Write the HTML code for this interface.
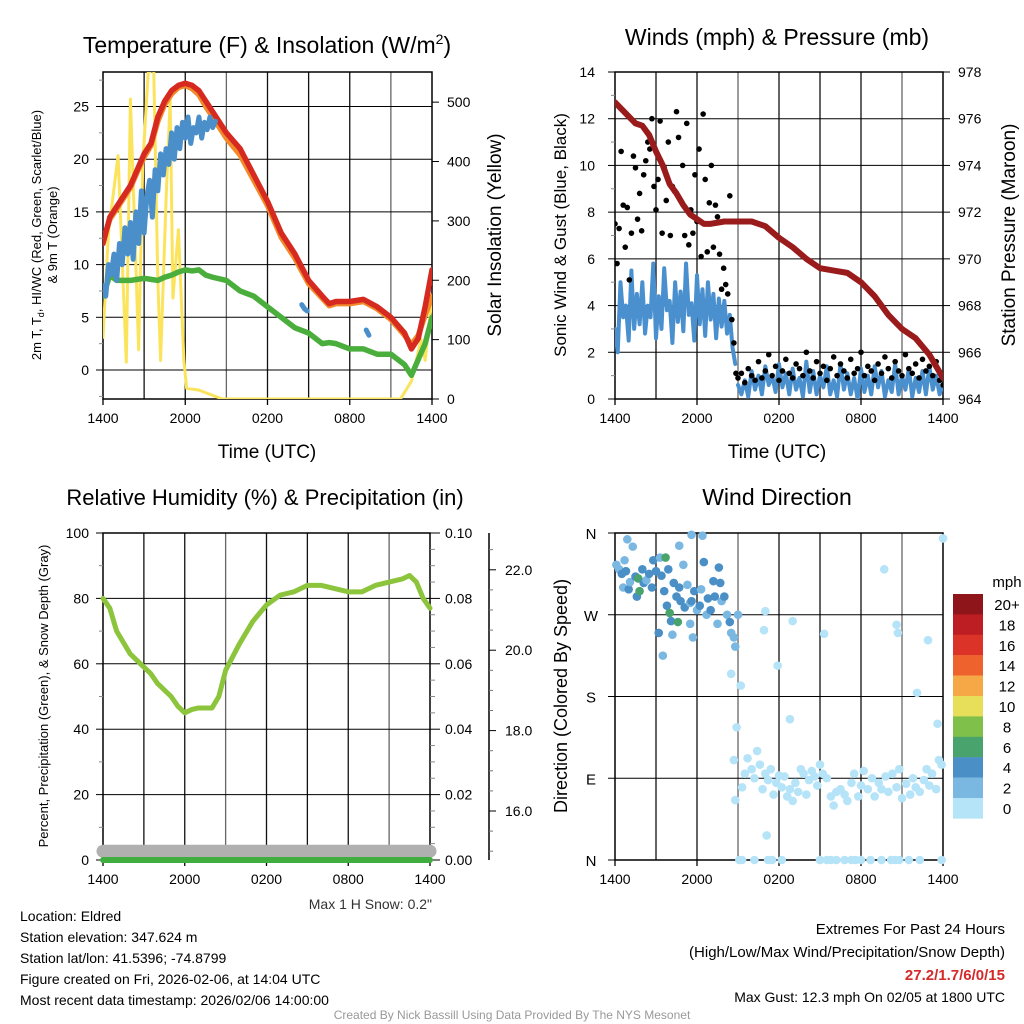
<!DOCTYPE html>
<html><head><meta charset="utf-8"><style>
body{margin:0;background:#fff;}
svg{display:block;font-family:"Liberation Sans",sans-serif;}
</style></head><body>
<svg id="s" width="1024" height="1024" viewBox="0 0 1024 1024"></svg>
<script>
// ---------- DATA ----------
const timeTicks=["1400","2000","0200","0800","1400"];
// Temperature panel (hours from 1400 UTC)
const tH=[0,0.5,1,1.5,2,2.5,3,3.5,4,4.5,5,5.5,6,6.5,7,7.5,8,9,10,11,12,13,14,15,16,16.5,17,18,19,20,21,22,22.5,23,23.5,24];
const tempRed=[12,14.5,15.5,16.5,17.5,19,20.5,21.5,24,25.5,26.5,27,27.2,27,26.5,25.5,24.5,22.5,21,18.5,16,13,11,8.5,7,6.3,6.5,6.5,6.7,6,5,3.5,2,3,6,9.5];
const temp9m=[12.3,14.3,15.3,16.3,17.3,18.8,20.2,21.3,23.6,25.2,26.2,26.8,27,26.7,26.1,25,24,22,20.4,18,15.6,12.6,10.6,8.2,6.8,6.1,6.3,6.3,6.5,5.8,4.8,3.3,2.4,3.3,5.2,7];
const dewGreen=[7,9,8.5,8.5,8.5,8.6,8.7,8.6,8.5,8.8,9,9.3,9.5,9.4,9.5,9,8.8,8.5,7.5,7,6,5,4,3.5,2.5,2.6,2.5,2,2,1.5,1.5,0.5,-0.5,1,2.5,5];
const wcStart=0, wcStep=0.2;
const wcBlue=[8,7,10,9,11,8.5,12,10,13.5,11,14,10.5,15,12,17,13,16.5,18,14.5,19,17,20.5,18.5,21,19.5,22.5,20,23,21,23.5,22,24,21.5,23,22.5,24,22,23.5,22.8,24,23,23.6];
const wcExtraH=[14.5,14.7,14.9,19.2,19.4];
const wcExtra=[6.2,5.8,5.6,3.8,3.3];
const solH=[0,0.4,1.1,1.7,2.0,2.6,2.9,3.3,3.7,4.0,4.2,4.6,4.9,5.1,5.5,5.9,6.1,7,8.7,21.7,22.5,23.2,23.5,24];
const solW=[104,280,410,62,505,83,395,550,555,200,65,335,505,170,285,65,18,15,0,0,30,100,65,170];
// Wind panel
const presH=[0,0.5,1,1.5,2,2.5,3,3.5,4,4.5,5,5.5,6,6.5,7,8,9,10,11,12,13,14,15,16,17,18,19,20,21,22,23,24];
const pres=[976.7,976.4,976.1,975.8,975.7,975.3,974.6,974,973.2,972.8,972.3,971.9,971.7,971.5,971.5,971.6,971.6,971.6,971.4,970.9,970.5,970,969.6,969.5,969.4,969,968.4,967.6,967,966.6,965.9,964.9];
const windEarlyStep=0.2;
const windEarly=[3,2,5,3.5,4,2.5,5.5,3,4.5,3.2,5,2.8,4,3.5,5.8,2.6,4.4,3,5.6,3.8,4.2,2.4,5,3.3,4.6,2.9,5.8,3.6,4.1,2.5,5.3,3.2,4.7,2.7,5,3.4,4.5,2.6,4.3,3.1,4.2,2.8,3.6,2.2,1.5];
const windLateStart=9, windLateStep=0.25;
const windLate=[0.6,0.2,0.8,0.1,1.2,0.4,1,0.2,1.4,0.6,1,0.3,1.5,0.5,1.1,0.2,1.3,0.4,0.9,0.1,1.6,0.3,1.2,0.2,1,0.5,1.4,0.2,0.8,0.1,1.5,0.4,1.1,0.2,0.9,0,1.3,0.3,1,0.2,1.4,0.5,1.2,0.1,0.8,0.3,1.5,0.2,1,0.4,1.3,0.1,0.9,0.3,1.2,0.2,1.4,0.4,1,0.2,0.6];
const gustEarlyStep=0.15;
const gustEarly=[7.5,5.8,7.3,10.6,8.3,6.5,8.2,5.1,7.1,10.4,9.9,7.7,8.8,7.2,9.6,10.2,11,10.7,12,9.1,8.1,9.4,11.9,7.1,9.9,8.5,11,7,9.1,8.9,12.3,11.2,8.5,10,7,11.8,6.6,8.1,7.1,9.6,7.6,10.7,6.1,12.2,9.4,6.3,8.4,10,6.5,8.3,7.8,6.2,4.7,5.6,4.9,4.5,8.7,3.4,2.4,1.1];
const gustLateStart=9, gustLateStep=0.25;
const gustLate=[0.9,1.1,0.7,1.3,1,0.8,1.6,0.9,1.2,1.9,1,1.4,0.8,1.2,1.7,1.1,0.9,1.5,1.3,1,2,1.2,0.9,1.6,1.1,1.4,0.8,1.3,1.8,1,1.5,1.2,0.9,1.7,1.1,1.3,2,1,1.4,1.2,0.8,1.5,1.1,1.8,1.3,0.9,1.6,1.2,1,1.9,1.3,1.1,1.5,0.9,1.7,1.2,1.4,1,1.6,0.8,0.6];
// RH panel
const rhH=[0,0.5,1,2,3,3.5,4,5,5.5,6,6.5,7,8,8.5,9,10,11,12,13,14,15,16,17,18,19,20,21,22,22.5,23,23.5,24];
const rh=[80,77,70,63,59,57,54,50,47,45,46,46.5,46.5,50,58,66,73,78,81,82,84,84,83,82,82,84,85,86,87,85,80,77];
const precipVal=[0,0];
const snowDepth=[15,15];
// Wind direction scatter
const dirH=[0.1,0.3,0.5,0.6,0.7,0.8,1,1.1,1.3,1.5,1.6,1.7,1.8,2,2.1,2.3,2.5,2.7,2.8,3,3.2,3.3,3.4,3.5,3.6,3.7,3.8,3.9,4,4.1,4.2,4.3,4.5,4.6,4.7,4.8,5,5.1,5.3,5.5,5.5,5.6,5.7,5.8,6,6.2,6.3,6.4,6.5,6.7,6.8,7,7.2,7.3,7.5,7.6,7.7,7.8,8,8.2,8.4,8.5,8.7,8.8,9,0.9,4.7,5.6,8.5,9.2,8.9,8.7,8.8,11,10.9,13,11.9,12.8,15.3,19.7,20.6,20.7,22.9,22.1,23.6,24,11.1,
9.3,9.5,9.7,10,10.2,10.4,10.6,10.8,11,11.2,11.4,11.6,11.8,12,12.2,12.4,12.6,12.8,13,13.2,13.4,13.6,13.8,14,14.2,14.4,14.6,14.8,15,15.2,15.5,15.8,16,16.2,16.5,16.8,17,17.3,17.5,17.8,18,18.2,18.5,18.8,19,19.3,19.5,19.8,20,20.3,20.6,20.8,21,21.3,21.6,21.8,22,22.3,22.6,22.8,23,23.2,23.5,23.7,23.9,
9.1,9.3,10.2,11.2,11.5,12.2,15,15.5,15.8,16.2,16.8,17.3,17.6,18,18.7,19.5,20.2,20.5,20.8,21.5,22.3,23.9];
const dirDeg=[325,320,315,300,330,318,298,306,345,312,290,310,296,320,305,308,315,300,330,318,250,333,313,225,296,333,280,320,272,263,248,305,290,262,300,285,325,278,303,283,260,285,245,296,275,280,298,357,328,270,288,275,307,290,260,322,305,285,290,270,262,250,245,235,270,353,346,358,205,192,146,110,66,274,253,263,214,155,249,320,259,250,242,184,150,354,27,
80,95,112,100,90,120,105,78,95,88,100,72,85,93,80,92,70,78,65,85,75,100,95,72,88,98,92,82,105,95,90,70,60,75,78,72,65,85,95,70,82,98,78,90,70,85,78,92,75,95,80,100,68,84,72,90,80,75,88,100,82,95,78,110,105,
0,0,0,0,0,0,0,0,0,0,0,0,0,0,0,0,0,0,0,0,0,0];
const dirSpd=[3,3,4,3,3,4,4,3,3,4,4,7,7,4,4,3,4,4,4,4,4,3,4,3,4,6,4,4,6,4,3,4,4,6,4,4,3,4,3,3,3,4,3,4,3,4,3,3,4,3,4,4,4,4,3,4,4,3,4,3,4,3,2,2,2,3,3,3,1,1,1,1,1,1,1,1,1,1,1,1,1,1,1,1,1,1,1,
1,1,1,1,1,1,1,1,1,1,1,1,1,1,1,1,1,1,1,1,1,1,1,1,1,1,1,1,1,1,1,1,1,1,1,1,1,1,1,1,1,1,1,1,1,1,1,1,1,1,1,1,1,1,1,1,1,1,1,1,1,1,1,1,1,
0,0,0,0,0,0,0,0,0,0,0,0,0,0,0,0,0,0,0,0,0,0];
const spdLabels=["20+","18","16","14","12","10","8","6","4","2","0"];
const spdColors=["#8e1519","#bd1e24","#dc3329","#ee622d","#f5a845","#e7df5a","#7fc04a","#48a46c","#4a8fc6","#7ab8e2","#b5e3f8"];

// ---------- DRAWING ----------
const S=document.getElementById('s');const NS='http://www.w3.org/2000/svg';
function mk(tag,at,parent){const e=document.createElementNS(NS,tag);for(const k in at)e.setAttribute(k,at[k]);(parent||S).appendChild(e);return e;}
function txt(x,y,s,size,anchor,extra){const e=mk('text',Object.assign({x:x,y:y,'font-size':size,'text-anchor':anchor||'middle',fill:'#000'},extra||{}));e.textContent=s;return e;}
function line(x1,y1,x2,y2,c,w){return mk('line',{x1,y1,x2,y2,stroke:c,'stroke-width':w});}
function poly(xs,ys,c,w,name){const p=mk('polyline',{points:xs.map((x,i)=>x+','+ys[i]).join(' '),fill:'none',stroke:c,'stroke-width':w,'stroke-linejoin':'round','stroke-linecap':'round'});

return p;}

// scales
const L1=103,R1=432,T1=72,B1=399,L2=615,R2=943,T3=533,B3=860;
const xA=h=>L1+h*(R1-L1)/24, xB=h=>L2+h*(R2-L2)/24;
const yT=v=>370-v*10.54, yS=w=>399-w*0.5937;
const yW=v=>B1-v*(B1-T1)/14, yP=p=>yW(p-964);
const yRH=v=>B3-v*(B3-T3)/100, yPr=v=>yRH(v*1000), ySn=d=>811-(d-16)*40.2;
const yD=d=>B3-d*(B3-T3)/360;

function frame(L,R,T,B,name){
 for(let i=1;i<8;i++){const x=L+i*(R-L)/8;const c=(i===3||i===7)?'#666':'#111';const g=line(x,T,x,B,c,1.3);}
 const r=mk('rect',{x:L,y:T,width:R-L,height:B-T,fill:'none',stroke:'#000','stroke-width':1.5});
 
 
 timeTicks.forEach((t,i)=>{const x=L+i*(R-L)/4;line(x,B,x,B+6,'#000',1.3);const e=txt(x,B+24,t,14);
  
  });
}
function hgrid(L,R,y){line(L,y,R,y,'#000',1);}

// ===== Panel 1 =====
frame(L1,R1,T1,B1,'temp-panel');
for(let v=0;v<=25;v+=5){hgrid(L1,R1,yT(v));line(L1-7,yT(v),L1,yT(v),'#000',1);const e=txt(L1-14,yT(v)+5,String(v),14,'end');
 
 }
for(let v=-2.5;v<=27.5;v+=5)line(L1-4,yT(v),L1,yT(v),'#888',1);
for(let w=0;w<=500;w+=100){line(R1,yS(w),R1+7,yS(w),'#000',1);const e=txt(R1+15,yS(w)+5,String(w),14,'start');
 
 }
const clip1=mk('clipPath',{id:'c1'});mk('rect',{x:L1,y:T1,width:R1-L1,height:B1-T1},clip1);
const g1=mk('g',{'clip-path':'url(#c1)'});
function polyIn(g,xs,ys,c,w,name){const p=poly(xs,ys,c,w,name);g.appendChild(p);return p;}
polyIn(g1,solH.map(xA),solW.map(yS),'#fbe45c',3,'solar-insolation-line');
polyIn(g1,tH.map(xA),dewGreen.map(yT),'#4aae3c',5.5,'dewpoint-line');
polyIn(g1,tH.map(xA),temp9m.map(yT),'#f2892a',5.5,'temp-9m-line');
polyIn(g1,tH.map(xA),tempRed.map(yT),'#d62a20',5.5,'temp-2m-line');
polyIn(g1,wcBlue.map((v,i)=>xA(wcStart+i*wcStep)),wcBlue.map(yT),'#4a8fc9',5,'windchill-line');
polyIn(g1,wcExtraH.slice(0,3).map(xA),wcExtra.slice(0,3).map(yT),'#4a8fc9',5,'windchill-line-2');
polyIn(g1,wcExtraH.slice(3).map(xA),wcExtra.slice(3).map(yT),'#4a8fc9',5,'windchill-line-3');
{const t=mk('text',{x:267,y:53,'font-size':23,'text-anchor':'middle'});t.innerHTML='Temperature (F) &amp; Insolation (W/m<tspan dy="-9" font-size="14">2</tspan><tspan dy="9">)</tspan>';
 
 }
{const t=txt(267,458,'Time (UTC)',19);}
{const t=mk('text',{x:0,y:0,'font-size':13,'text-anchor':'middle',transform:'translate(41,235) rotate(-90)'});t.innerHTML='2m T, T<tspan dy="3" font-size="9">d</tspan><tspan dy="-3">, HI/WC (Red, Green, Scarlet/Blue)</tspan>';
 }
{const t=txt(0,0,'& 9m T (Orange)',13,'middle',{transform:'translate(57,235) rotate(-90)'});}
{const t=txt(0,0,'Solar Insolation (Yellow)',19,'middle',{transform:'translate(501,235) rotate(-90)'});}

// ===== Panel 2 =====
frame(L2,R2,T1,B1,'wind-panel');
for(let v=0;v<=14;v+=2){hgrid(L2,R2,yW(v));line(L2-7,yW(v),L2,yW(v),'#000',1);if(v<14)line(L2-4,yW(v+1),L2,yW(v+1),'#888',1);
 const e=txt(L2-20,yW(v)+5,String(v),14,'end');
 line(R2,yW(v),R2+7,yW(v),'#000',1);const f=txt(R2+15,yW(v)+5,String(964+v),14,'start');}
const clip2=mk('clipPath',{id:'c2'});mk('rect',{x:L2,y:T1,width:R2-L2,height:B1-T1},clip2);
const g2=mk('g',{'clip-path':'url(#c2)'});
polyIn(g2,windEarly.map((v,i)=>xB(i*windEarlyStep)),windEarly.map(yW),'#4a90cf',4,'sustained-wind-line-early');
polyIn(g2,windLate.map((v,i)=>xB(windLateStart+i*windLateStep)),windLate.map(yW),'#4a90cf',4,'sustained-wind-line-late');
gustEarly.forEach((v,i)=>{const c=mk('circle',{cx:xB(i*gustEarlyStep),cy:yW(v),r:2.8,fill:'#000'},g2);
 
 });
gustLate.forEach((v,i)=>{const c=mk('circle',{cx:xB(gustLateStart+i*gustLateStep),cy:yW(v),r:2.8,fill:'#000'},g2);
 
 });
polyIn(g2,presH.map(xB),pres.map(yP),'#9a1b1b',6,'pressure-line');
{const t=txt(777,45,'Winds (mph) & Pressure (mb)',23);}
{const t=txt(777,458,'Time (UTC)',19);}
{const t=txt(0,0,'Sonic Wind & Gust (Blue, Black)',17,'middle',{transform:'translate(566,235) rotate(-90)'});}
{const t=txt(0,0,'Station Pressure (Maroon)',19,'middle',{transform:'translate(1015,235) rotate(-90)'});}

// ===== Panel 3 =====
const R3=430;
frame(L1,R3,T3,B3,'rh-panel');
for(let v=0;v<=100;v+=20){hgrid(L1,R3,yRH(v));line(L1-7,yRH(v),L1,yRH(v),'#000',1);if(v<100)line(L1-4,yRH(v+10),L1,yRH(v+10),'#888',1);
 const e=txt(L1-14,yRH(v)+5,String(v),14,'end');
 line(R3,yRH(v),R3+10,yRH(v),'#000',1);
 const f=txt(R3+15,yRH(v)+5,(v/1000).toFixed(2),14,'start');}
for(let v=5;v<100;v+=5)if(v%20)line(R3,yRH(v),R3+5,yRH(v),'#888',1);
line(489,T3,489,B3,'#000',1.5);
for(let d=15;d<=22.5;d+=0.5){const maj=(d%2===0);line(489,ySn(d),489+(maj?7:4),ySn(d),maj?'#000':'#777',1);
 if(maj){const e=txt(505,ySn(d)+5,d.toFixed(1),14,'start');}}
{const p=line(xA(0),ySn(snowDepth[0]),xA(24)-2,ySn(snowDepth[1]),'#b0b0b0',13);p.setAttribute('stroke-linecap','round');}
{const p=line(xA(0),yPr(precipVal[0]),xA(24)-2,yPr(precipVal[1]),'#3fae3f',6);p.setAttribute('stroke-linecap','round');}
poly(rhH.map(h=>L1+h*(R3-L1)/24),rh.map(yRH),'#8cc43c',5,'rh-line');
{const t=txt(265,505,'Relative Humidity (%) & Precipitation (in)',22);}
{const t=txt(0,0,'Percent, Precipitation (Green), & Snow Depth (Gray)',13,'middle',{transform:'translate(48,696) rotate(-90)'});}
{const t=txt(432,909,'Max 1 H Snow: 0.2"',14,'end',{fill:'#333'});}

// ===== Panel 4 =====
frame(L2,R2,T3,B3,'direction-panel');
["N","E","S","W","N"].forEach((s,i)=>{const d=i*90;hgrid(L2,R2,yD(d));line(L2-7,yD(d),L2,yD(d),'#000',1);
 const e=txt(L2-24,yD(d)+6,s,15);});
const clip4=mk('clipPath',{id:'c4'});mk('rect',{x:L2-6,y:T3-6,width:R2-L2+12,height:B3-T3+12},clip4);
const g4=mk('g',{'clip-path':'url(#c4)'});
dirH.forEach((h,i)=>{const b=Math.min(10,Math.floor(dirSpd[i]/2));const c=mk('circle',{cx:xB(h),cy:yD(dirDeg[i]),r:4.3,fill:spdColors[10-b]},g4);
 
 });
{const t=txt(777,505,'Wind Direction',23);}
{const t=txt(0,0,'Direction (Colored By Speed)',18,'middle',{transform:'translate(567,696) rotate(-90)'});}
// legend
{const t=txt(1007,587,'mph',15);}
spdLabels.forEach((s,i)=>{const y=594+i*20.4;const r=mk('rect',{x:953,y:y,width:30,height:20.6,fill:spdColors[i]});
 
 
 const t=txt(1007,y+16,s,15);});

// ===== Footer text =====
["Location: Eldred","Station elevation: 347.624 m","Station lat/lon: 41.5396; -74.8799","Figure created on Fri, 2026-02-06, at 14:04 UTC","Most recent data timestamp: 2026/02/06 14:00:00"].forEach((s,i)=>{
 const t=txt(20,921+i*21,s,14,'start');});
{const t=txt(1005,934,'Extremes For Past 24 Hours',15,'end');}
{const t=txt(1005,957,'(High/Low/Max Wind/Precipitation/Snow Depth)',15,'end');}
{const t=txt(1005,980,'27.2/1.7/6/0/15',15,'end',{fill:'#d42a2a','font-weight':'bold'});}
{const t=txt(1005,1002,'Max Gust: 12.3 mph On 02/05 at 1800 UTC',14,'end');}
{const t=txt(512,1019,'Created By Nick Bassill Using Data Provided By The NYS Mesonet',12,'middle',{fill:'#999'});}
</script>
</body></html>
